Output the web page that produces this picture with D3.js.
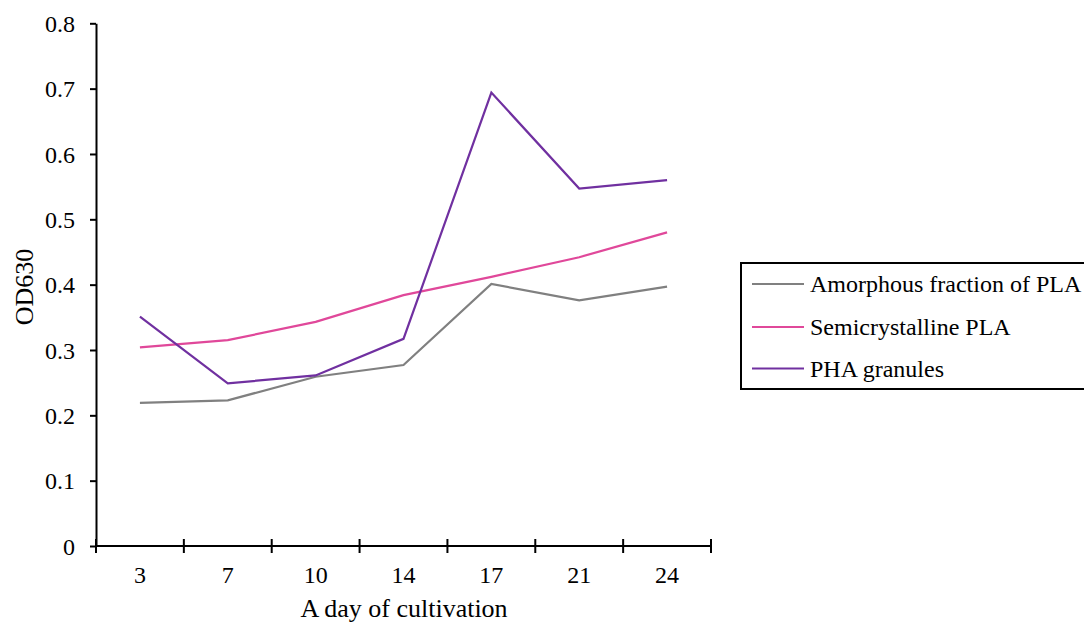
<!DOCTYPE html>
<html>
<head>
<meta charset="utf-8">
<script src="https://cdn.jsdelivr.net/npm/d3@7"></script>
<style>
  html, body { margin: 0; padding: 0; background: #fff; }
  svg text { font-family: "Liberation Serif", "Times New Roman", serif; fill: #000; }
</style>
</head>
<body>
<svg id="chart" width="1084" height="624"></svg>
<script>
// Cultivation days (x categories)
const days = ["3", "7", "10", "14", "17", "21", "24"];

// OD630 readings per substrate
const amorphous = [0.219, 0.223, 0.259, 0.277, 0.401, 0.376, 0.397];
const semicrystalline = [0.304, 0.315, 0.343, 0.384, 0.412, 0.442, 0.480];
const phaGranules = [0.351, 0.249, 0.261, 0.317, 0.694, 0.547, 0.560];

const seriesNames = ["Amorphous fraction of PLA", "Semicrystalline PLA", "PHA granules"];
const seriesColors = ["#808080", "#e0489a", "#7030a0"];
const yTicks = [0, 0.1, 0.2, 0.3, 0.4, 0.5, 0.6, 0.7, 0.8];

const series = [amorphous, semicrystalline, phaGranules].map((v, i) => ({
  name: seriesNames[i], color: seriesColors[i], values: v
}));

const svg = d3.select("#chart");
const plotLeft = 96, plotRight = 711, plotTop = 23.3, plotBottom = 546;
const serif = "'Liberation Serif', 'Times New Roman', serif";

const x = d3.scaleBand().domain(days).range([plotLeft, plotRight]).padding(0);
const y = d3.scaleLinear().domain([0, 0.8]).range([plotBottom, plotTop]);

// Y axis
const yAxis = svg.append("g").attr("transform", `translate(${plotLeft},0)`)
  .call(d3.axisLeft(y).tickValues(yTicks).tickFormat(d => d === 0 ? "0" : d3.format(".1f")(d)).tickSize(6).tickSizeOuter(0));
yAxis.attr("font-family", serif).attr("font-size", 24);
yAxis.select(".domain").attr("stroke", "#000").attr("stroke-width", 2);
yAxis.selectAll(".tick line").attr("stroke", "#000").attr("stroke-width", 2);
yAxis.selectAll(".tick text").attr("x", -21).attr("dy", "0.34em");

// X axis: category labels centered, tick marks at band boundaries crossing the axis
const xg = svg.append("g").attr("transform", `translate(0,${plotBottom})`);
xg.append("line").attr("x1", plotLeft).attr("x2", plotRight).attr("y1", 0).attr("y2", 0)
  .attr("stroke", "#000").attr("stroke-width", 2);
const boundaries = days.map(d => x(d)).concat([x(days[days.length - 1]) + x.bandwidth()]);
xg.selectAll("line.tk").data(boundaries).enter().append("line").attr("class", "tk")
  .attr("x1", d => d).attr("x2", d => d).attr("y1", -7).attr("y2", 7)
  .attr("stroke", "#000").attr("stroke-width", 2);
xg.selectAll("text.lbl").data(days).enter().append("text").attr("class", "lbl")
  .attr("x", d => x(d) + x.bandwidth() / 2).attr("y", 37)
  .attr("text-anchor", "middle").attr("font-size", 24).text(d => d);

// Axis titles
svg.append("text").attr("x", 404).attr("y", 617)
  .attr("text-anchor", "middle").attr("font-size", 26).text("A day of cultivation");
svg.append("text").attr("transform", `translate(33,287) rotate(-90)`)
  .attr("text-anchor", "middle").attr("font-size", 26).text("OD630");

// Lines
const line = d3.line()
  .x((d, i) => x(days[i]) + x.bandwidth() / 2)
  .y(d => y(d));
svg.selectAll("path.series").data(series).enter().append("path").attr("class", "series")
  .attr("d", d => line(d.values)).attr("fill", "none")
  .attr("stroke", d => d.color).attr("stroke-width", 2.2).attr("stroke-linejoin", "miter");

// Legend
const lg = svg.append("g");
lg.append("rect").attr("x", 741).attr("y", 263).attr("width", 360).attr("height", 126)
  .attr("fill", "#fff").attr("stroke", "#000").attr("stroke-width", 2);
const rowY = [284, 327, 368.5];
series.forEach((s, i) => {
  lg.append("line").attr("x1", 752).attr("x2", 804).attr("y1", rowY[i]).attr("y2", rowY[i])
    .attr("stroke", s.color).attr("stroke-width", 2.2);
  lg.append("text").attr("x", 810).attr("y", rowY[i] + 8).attr("font-size", 24).text(s.name);
});
</script>
</body>
</html>
